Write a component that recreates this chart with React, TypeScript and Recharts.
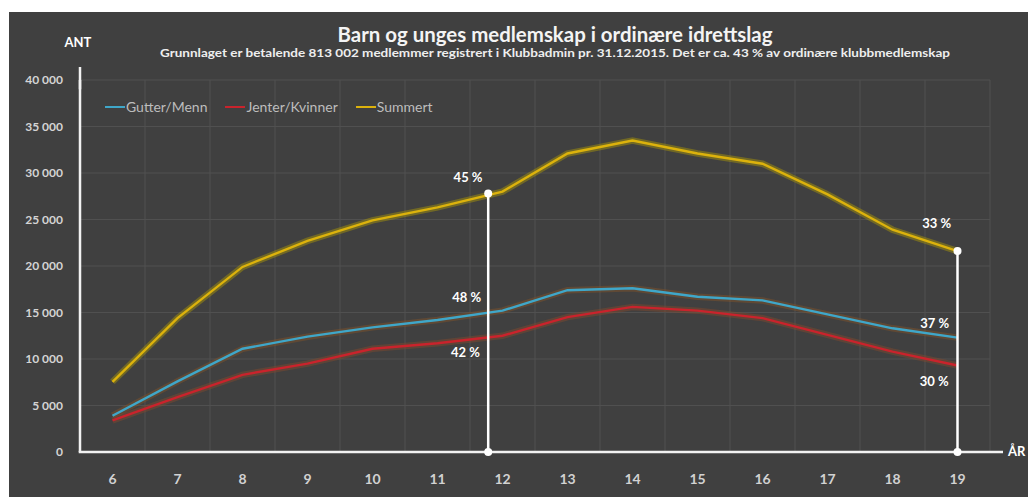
import {
	ComposedChart,
	CartesianGrid,
	Line,
	ReferenceDot,
	ReferenceLine,
	XAxis,
	YAxis,
} from "recharts";

// Alder (år) og antall medlemmer per serie, lest av bildet.
const ages = [6, 7, 8, 9, 10, 11, 12, 13, 14, 15, 16, 17, 18, 19];
const gutterMenn = [3900, 7600, 11100, 12400, 13400, 14200, 15200, 17400, 17600, 16700, 16300, 14800, 13300, 12300];
const jenterKvinner = [3400, 5900, 8300, 9500, 11100, 11700, 12500, 14500, 15600, 15200, 14400, 12600, 10800, 9300];
const summert = [7550, 14400, 19900, 22700, 24900, 26300, 28000, 32100, 33500, 32100, 31000, 27700, 23900, 21600];

const yTicks = [0, 5000, 10000, 15000, 20000, 25000, 30000, 35000, 40000];
// Excel-style gridlines sit between the categories, not on them.
const categoryEdges = [5.5, 6.5, 7.5, 8.5, 9.5, 10.5, 11.5, 12.5, 13.5, 14.5, 15.5, 16.5, 17.5, 18.5, 19.5];

// White marker lines (age, top value) and the share labels beside them.
const markerAges = [11.78, 19];
const markerTops = [27800, 21600];
const shareNotes = [
	{ age: 11.47, value: 29500, text: "45 %" },
	{ age: 11.45, value: 16650, text: "48 %" },
	{ age: 11.43, value: 10750, text: "42 %" },
	{ age: 18.68, value: 24600, text: "33 %" },
	{ age: 18.65, value: 13850, text: "37 %" },
	{ age: 18.64, value: 7550, text: "30 %" },
];

const series = [
	{ key: "gutter", name: "Gutter/Menn", color: "#3fa7c9", glow: "#8a5526" },
	{ key: "jenter", name: "Jenter/Kvinner", color: "#c9232c", glow: "#8a4a2a" },
	{ key: "sum", name: "Summert", color: "#dcb20c", glow: "#b5a000" },
];

const data = ages.map((age, i) => ({
	age,
	gutter: gutterMenn[i],
	jenter: jenterKvinner[i],
	sum: summert[i],
}));

const FONT = "Lato, 'Open Sans', sans-serif";
const BG = "#404040";
const GRID = "#505050";
const AXIS = "#f2f2f2";

const fmtThousands = (v: number) => (v === 0 ? "0" : `${Math.floor(v / 1000)} ${String(v % 1000).padStart(3, "0")}`);

// Legend sits inside the plot in the original, so it is laid over the chart
// rather than handed to <Legend>, which would steal room from the plot.
function LegendRow() {
	return (
		<div
			style={{
				position: "absolute",
				left: 105,
				top: 98,
				display: "flex",
				gap: 18,
				fontFamily: FONT,
				fontSize: 14,
				color: "#bdbdbd",
				alignItems: "center",
			}}
		>
			{series.map((s) => (
				<span key={s.key} style={{ display: "flex", alignItems: "center" }}>
					<span style={{ display: "inline-block", width: 20, height: 2, background: s.color, marginRight: 1 }} />
					{s.name}
				</span>
			))}
		</div>
	);
}

export default function App() {
	return (
		<div style={{ position: "absolute", left: 0, top: 0, width: 1028, height: 497, background: "#fff", overflow: "hidden" }}>
			<style>{"body{margin:0}"}</style>
			<div style={{ position: "absolute", left: 9, top: 12, width: 1019, height: 485, background: BG }} />
			<div style={{ position: "absolute", left: 0, top: 0 }}>
				<ComposedChart width={1028} height={497} data={data} margin={{ top: 80, right: 38, left: 20, bottom: 15 }}>
					<CartesianGrid horizontal stroke={GRID} vertical={false} />
					{categoryEdges.map((e) => (
						<ReferenceLine key={`g${e}`} x={e} stroke={GRID} strokeWidth={1} ifOverflow="visible" />
					))}
					<XAxis
						dataKey="age"
						type="number"
						domain={[5.5, 19.5]}
						ticks={ages}
						interval={0}
						axisLine={false}
						tickLine={false}
						tickSize={0}
						tickMargin={22}
						height={30}
						tick={{ fill: "#d2d2d2", fontSize: 14, fontWeight: 700, fontFamily: FONT }}
					/>
					<YAxis
						type="number"
						domain={[0, 40000]}
						ticks={yTicks}
						interval={0}
						axisLine={{ stroke: AXIS, strokeWidth: 2.5 }}
						tickLine={false}
						tickSize={0}
						tickMargin={17}
						width={60}
						tickFormatter={fmtThousands}
						tick={{ fill: "#d4d4d4", fontSize: 12, fontWeight: 700, fontFamily: FONT }}
					/>
					{series.map((s) => (
						<Line
							key={`${s.key}-glow`}
							dataKey={s.key}
							type="linear"
							stroke={s.glow}
							strokeWidth={6.5}
							strokeOpacity={0.42}
							dot={false}
							activeDot={false}
							legendType="none"
							isAnimationActive={false}
						/>
					))}
					{series.map((s) => (
						<Line
							key={s.key}
							dataKey={s.key}
							name={s.name}
							type="linear"
							stroke={s.color}
							strokeWidth={2.4}
							dot={false}
							activeDot={false}
							isAnimationActive={false}
						/>
					))}
					{/* white axes, drawn a little past the plot like the original */}
					<ReferenceLine
						segment={[
							{ x: 5.48, y: 0 },
							{ x: 19.7, y: 0 },
						]}
						stroke={AXIS}
						strokeWidth={2.5}
						ifOverflow="visible"
					/>
					<ReferenceLine
						segment={[
							{ x: 5.5, y: 39000 },
							{ x: 5.5, y: 41400 },
						]}
						stroke={AXIS}
						strokeWidth={2.5}
						ifOverflow="visible"
					/>
					{markerAges.map((a, i) => (
						<ReferenceLine
							key={`m${a}`}
							segment={[
								{ x: a, y: 0 },
								{ x: a, y: markerTops[i] },
							]}
							stroke="#ffffff"
							strokeWidth={2.5}
							ifOverflow="visible"
						/>
					))}
					{markerAges.map((a, i) => (
						<ReferenceDot key={`t${a}`} x={a} y={markerTops[i]} r={4} fill="#ffffff" stroke="none" ifOverflow="visible" />
					))}
					{markerAges.map((a) => (
						<ReferenceDot key={`b${a}`} x={a} y={0} r={4} fill="#ffffff" stroke="none" ifOverflow="visible" />
					))}
					{shareNotes.map((n) => (
						<ReferenceDot
							key={n.text}
							x={n.age}
							y={n.value}
							r={0}
							fill="none"
							stroke="none"
							ifOverflow="visible"
							label={{ value: n.text, position: "center", fill: "#ffffff", fontSize: 13, fontWeight: 700, fontFamily: FONT }}
						/>
					))}
				</ComposedChart>
			</div>
			<LegendRow />
			<svg width={1028} height={497} style={{ position: "absolute", left: 0, top: 0, pointerEvents: "none" }}>
				<text x={555} y={42} textAnchor="middle" fill="#f4f4f4" fontFamily={FONT} fontWeight={700} fontSize={20} textLength={435} lengthAdjust="spacingAndGlyphs">
					Barn og unges medlemskap i ordinære idrettslag
				</text>
				<text x={555} y={57} textAnchor="middle" fill="#eeeeee" fontFamily={FONT} fontWeight={700} fontSize={11.5} textLength={790} lengthAdjust="spacingAndGlyphs">
					Grunnlaget er betalende 813 002 medlemmer registrert i Klubbadmin pr. 31.12.2015. Det er ca. 43 % av ordinære klubbmedlemskap
				</text>
				<text x={78} y={47} textAnchor="middle" fill="#ffffff" fontFamily={FONT} fontWeight={700} fontSize={13}>
					ANT
				</text>
				<text x={1008} y={456} fill="#ffffff" fontFamily={FONT} fontWeight={700} fontSize={13}>
					ÅR
				</text>
			</svg>
		</div>
	);
}
